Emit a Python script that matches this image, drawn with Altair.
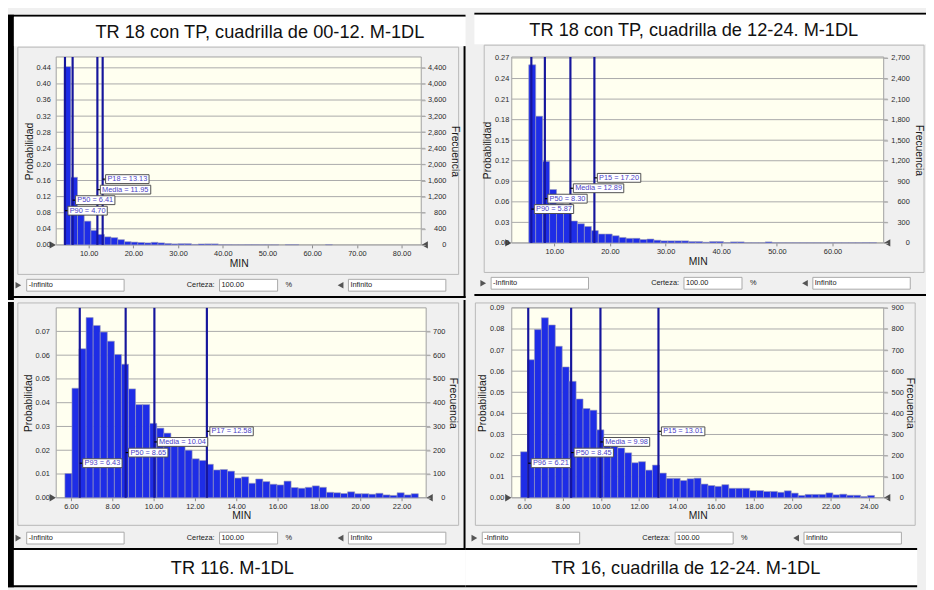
import altair as alt
import pandas as pd

TRIALS = 10000

PANEL_TITLES = [
    "TR 18 con TP, cuadrilla de 00-12. M-1DL",
    "TR 18 con TP, cuadrilla de 12-24. M-1DL",
    "TR 116. M-1DL",
    "TR 16, cuadrilla de 12-24. M-1DL",
]
X_TITLE = "MIN"
Y_TITLE = "Probabilidad"
Y2_TITLE = "Frecuencia"
CERTEZA = "Certeza:"
CERTEZA_VALUE = "100.00"
PERCENT = "%"
LOW_BOUND = "-Infinito"
HIGH_BOUND = "Infinito"

# ---------------- panel 1 (top left) ----------------
P1_BIN_START = 4.5
P1_BIN_WIDTH = 1.5
P1_PROB = [0.443, 0.168, 0.077, 0.059, 0.036, 0.026, 0.020, 0.018, 0.013, 0.008,
           0.007, 0.006, 0.005, 0.0065, 0.005, 0.0035, 0.0025, 0.003, 0.003, 0.0012,
           0.0025, 0.0025, 0.0025, 0.0004, 0.0004, 0.0004, 0.0004, 0.0004, 0.0004, 0.0004,
           0.0004, 0.0004, 0.0, 0.0008, 0.0008, 0.0, 0.0, 0.0, 0.0, 0.0008]
P1_MARK_NAMES = ["P90", "P50", "Media", "P18"]
P1_MARK_VALUES = [4.70, 6.41, 11.95, 13.13]
P1_X_DOMAIN = [2.74, 84.4]
P1_X_TICKS = [10, 20, 30, 40, 50, 60, 70, 80]
P1_Y_MAX = 0.467
P1_Y_TICKS = [0.00, 0.04, 0.08, 0.12, 0.16, 0.20, 0.24, 0.28, 0.32, 0.36, 0.40, 0.44]
P1_F_TICKS = [0, 400, 800, 1200, 1600, 2000, 2400, 2800, 3200, 3600, 4000, 4400]

# ---------------- panel 2 (top right) ----------------
P2_BIN_START = 5.4
P2_BIN_WIDTH = 1.25
P2_PROB = [0.26, 0.185, 0.119, 0.078, 0.057, 0.056, 0.032, 0.028, 0.024, 0.018,
           0.013, 0.013, 0.0105, 0.008, 0.0067, 0.0067, 0.005, 0.0057, 0.004, 0.003,
           0.003, 0.003, 0.003, 0.002, 0.002, 0.001, 0.002, 0.002, 0.0005, 0.0015,
           0.0015, 0.0003, 0.0003, 0.0003, 0.0015, 0.0003, 0.0003, 0.0003, 0.0003, 0.0003,
           0.0003, 0.0003, 0.0003, 0.0003, 0.0003, 0.0003, 0.0003, 0.0003, 0.0005, 0.0005]
P2_MARK_NAMES = ["P90", "P50", "Media", "P15"]
P2_MARK_VALUES = [5.87, 8.30, 12.89, 17.20]
P2_X_DOMAIN = [2.35, 69.2]
P2_X_TICKS = [10, 20, 30, 40, 50, 60]
P2_Y_MAX = 0.2715
P2_Y_TICKS = [0.00, 0.03, 0.06, 0.09, 0.12, 0.15, 0.18, 0.21, 0.24, 0.27]
P2_F_TICKS = [0, 300, 600, 900, 1200, 1500, 1800, 2100, 2400, 2700]

# ---------------- panel 3 (bottom left) ----------------
P3_BIN_START = 5.71
P3_BIN_WIDTH = 0.342
P3_PROB = [0.0102, 0.0461, 0.0627, 0.0758, 0.0725, 0.0697, 0.0659, 0.0603, 0.0562, 0.0458,
           0.0392, 0.0392, 0.0313, 0.0293, 0.0272, 0.0250, 0.0225, 0.0200, 0.0164, 0.0157,
           0.0141, 0.0117, 0.0119, 0.0112, 0.0083, 0.0088, 0.0061, 0.0079, 0.0068, 0.0057,
           0.0054, 0.0070, 0.0043, 0.0040, 0.0044, 0.0050, 0.0044, 0.0023, 0.0021, 0.0018,
           0.0025, 0.0017, 0.0017, 0.0015, 0.0019, 0.0012, 0.0010, 0.0021, 0.0012, 0.0017]
P3_MARK_NAMES = ["P93", "P50", "Media", "P17"]
P3_MARK_VALUES = [6.43, 8.65, 10.04, 12.58]
P3_X_DOMAIN = [5.29, 23.19]
P3_X_TICKS = [6, 8, 10, 12, 14, 16, 18, 20, 22]
P3_Y_MAX = 0.0799
P3_Y_TICKS = [0.00, 0.01, 0.02, 0.03, 0.04, 0.05, 0.06, 0.07]
P3_F_TICKS = [0, 100, 200, 300, 400, 500, 600, 700]

# ---------------- panel 4 (bottom right) ----------------
P4_BIN_START = 5.81
P4_BIN_WIDTH = 0.3624
P4_PROB = [0.0218, 0.0654, 0.0797, 0.0853, 0.0819, 0.0718, 0.0620, 0.0552, 0.0468, 0.0423,
           0.0415, 0.0322, 0.0275, 0.0244, 0.0236, 0.0213, 0.0166, 0.0171, 0.0131, 0.0155,
           0.0117, 0.0092, 0.0092, 0.0082, 0.0090, 0.0093, 0.0065, 0.0058, 0.0054, 0.0062,
           0.0045, 0.0045, 0.0045, 0.0034, 0.0034, 0.0030, 0.0030, 0.0026, 0.0033, 0.0022,
           0.0011, 0.0016, 0.0016, 0.0016, 0.0023, 0.0014, 0.0017, 0.0012, 0.0012, 0.0006,
           0.0011]
P4_MARK_NAMES = ["P96", "P50", "Media", "P15"]
P4_MARK_VALUES = [6.21, 8.45, 9.98, 13.01]
P4_X_DOMAIN = [5.35, 24.77]
P4_X_TICKS = [6, 8, 10, 12, 14, 16, 18, 20, 22, 24]
P4_Y_MAX = 0.09
P4_Y_TICKS = [0.00, 0.01, 0.02, 0.03, 0.04, 0.05, 0.06, 0.07, 0.08, 0.09]
P4_F_TICKS = [0, 100, 200, 300, 400, 500, 600, 700, 800, 900]

# ---------------- styling / layout ----------------
ONE = pd.DataFrame({"k": [0]})
UI = "Liberation Sans"
BLUE = "#1E2DE6"
RULE_C = "#16169C"
GRID = "#A9A9A9"
PANEL = "#F0F0F0"
PLOT_BG = "#FFFFF0"
LABEL_FRACS = [0.182, 0.238, 0.294, 0.35]
CW = {"P": .667, "M": .833, "e": .556, "d": .556, "i": .222, "a": .556,
      " ": .278, "=": .584, ".": .278}


def tw(s, size):
    return sum(CW.get(c, .556) for c in s) * size


def make_panel(title, d, lay):
    px, py, W, H = lay["px"], lay["py"], lay["W"], lay["H"]
    top = lay["pos"] == "top"
    left = lay["col"] == "left"
    ox = 0 if left else 4
    xs = alt.Scale(domain=d["xdom"], nice=False, zero=False)
    ys = alt.Scale(domain=[0, d["ymax"]], nice=False, zero=True)
    ppx = W / (d["xdom"][1] - d["xdom"][0])
    ppy = H / d["ymax"]
    L = []

    def rect(x1, y1, x2, y2, fill, stroke=None, sw=0, fo=1):
        kw = dict(fill=fill, strokeWidth=sw, fillOpacity=fo)
        if stroke is not None:
            kw["stroke"] = stroke
        L.append(alt.Chart(ONE).mark_rect(**kw).encode(
            x=alt.value(x1 - px), x2=alt.value(x2 - px),
            y=alt.value(y1 - py), y2=alt.value(y2 - py)))

    def label(x, y, s, size=7.5, align="left", color="#1A1A1A"):
        L.append(alt.Chart(ONE).mark_text(
            text=s, fontSize=size, font=UI, align=align, baseline="middle",
            color=color).encode(x=alt.value(x - px), y=alt.value(y - py)))

    def tri(x, y, shape, size=45, color="#555555"):
        L.append(alt.Chart(ONE).mark_point(
            shape=shape, size=size, filled=True, color=color, opacity=1).encode(
            x=alt.value(x - px), y=alt.value(y - py)))

    # cell frame (chart background is the panel grey)
    x_lo = -6 if left else 0
    y_lo, y_hi = (-2, 288) if top else (0, 290)
    rect(x_lo, y_lo, 459, y_hi, PANEL, fo=0)          # fixes the cell bounds
    if left:
        rect(-6, y_lo, 0, y_hi, "#000000")              # outer left border
    if top:
        rect(x_lo, -2, 459, 0, "#000000")               # outer top border
        rect(0, 0, 459, 30, "#FFFFFF")                  # caption strip
        rect(x_lo, 284, 459, 286, "#000000")            # separator to lower row
        if left:
            rect(457, 30, 459, 286, "#000000")          # separator between columns
        by0, by1, row_y, title_y = 31, 262, 273, 16
    else:
        if left:
            rect(457, -2, 459, 252, "#000000")
        rect(x_lo, 250, 459, 252, "#000000")
        rect(0, 252, 459, 288, "#FFFFFF")
        rect(x_lo, 288, 459, 290, "#000000")            # outer bottom border
        by0, by1, row_y, title_y = 1, 227, 240, 270
    bx0 = 4 if left else 10
    bx1 = 452 if left else 457
    rect(bx0, by0, bx1, by1, PANEL, "#B8B8B8", 1, fo=0)
    rect(px, py, px + W, py + H, PLOT_BG, "#A0A0A0", 1)

    # gridlines
    L.append(alt.Chart(pd.DataFrame({"v": d["yticks"]})).mark_rule(
        color=GRID, strokeWidth=1).encode(
        y=alt.Y("v:Q", scale=ys, axis=None), x=alt.value(0), x2=alt.value(W + 4)))

    # histogram bars
    n = len(d["prob"])
    bdf = pd.DataFrame({
        "x0": [d["start"] + i * d["width"] for i in range(n)],
        "x1": [d["start"] + (i + 1) * d["width"] for i in range(n)],
        "p": d["prob"],
    })
    bdf = bdf[bdf["p"] > 0]
    L.append(alt.Chart(bdf).mark_rect(fill=BLUE, stroke="#9C9CB8", strokeWidth=0.6).encode(
        x=alt.X("x0:Q", scale=xs, axis=None), x2="x1:Q",
        y=alt.Y("p:Q", scale=ys, axis=None), y2=alt.datum(0)))

    # percentile / mean markers
    order = sorted(range(len(d["mvals"])), key=lambda i: d["mvals"][i])
    rows = []
    for rank, i in enumerate(order):
        v = d["mvals"][i]
        s = f"{d['mnames'][i]} = {v:.2f}"
        w = tw(s, 7.5) + 3.5
        ly = LABEL_FRACS[rank] * d["ymax"]
        rows.append(dict(v=v, label=s, b0=v + 3 / ppx, b1=v + (3 + w) / ppx,
                         ly=ly, y0=ly - 4.5 / ppy, y1=ly + 4.5 / ppy))
    mdf = pd.DataFrame(rows)
    L.append(alt.Chart(mdf).mark_rule(color=RULE_C, strokeWidth=2.2).encode(
        x=alt.X("v:Q", scale=xs, axis=None)))
    L.append(alt.Chart(mdf).mark_rule(color="#000000", strokeWidth=1.2).encode(
        x=alt.X("v:Q", scale=xs, axis=None), x2="b0:Q",
        y=alt.Y("ly:Q", scale=ys, axis=None)))
    L.append(alt.Chart(mdf).mark_rect(fill="#FFFFFF", stroke="#505050", strokeWidth=1).encode(
        x=alt.X("b0:Q", scale=xs, axis=None), x2="b1:Q",
        y=alt.Y("y0:Q", scale=ys, axis=None), y2="y1:Q"))
    L.append(alt.Chart(mdf).mark_text(align="left", baseline="middle", fontSize=7.5, font=UI,
                                      color="#4B3FC6", dx=1.8).encode(
        x=alt.X("b0:Q", scale=xs, axis=None), y=alt.Y("ly:Q", scale=ys, axis=None),
        text="label:N"))

    # corner arrows of the plot
    tri(px - 3.5, py + H, "triangle-right", 55, "#4D4D4D")
    tri(px + W + 3.5, py + H, "triangle-left", 55, "#4D4D4D")

    # certainty input row
    tri(4.5 if left else 9, row_y, "triangle-right", 45, "#555555")
    rect(13 + ox, row_y - 6, 112 + ox, row_y + 6, "#FFFFFF", "#A8A8A8", 1)
    label(15 + ox, row_y, LOW_BOUND)
    label(204 + ox, row_y, CERTEZA, align="right")
    rect(209 + ox, row_y - 6, 268 + ox, row_y + 6, "#FFFFFF", "#A8A8A8", 1)
    label(211 + ox, row_y, CERTEZA_VALUE)
    label(276 + ox, row_y, PERCENT)
    tri(332 + ox, row_y, "triangle-left", 45, "#555555")
    rect(340 + ox, row_y - 6, 439 + ox, row_y + 6, "#FFFFFF", "#A8A8A8", 1)
    label(342 + ox, row_y, HIGH_BOUND)

    # panel caption
    label(lay["tx"], title_y, title, size=18.5, align="center", color="#111111")

    main = alt.layer(*L)

    # axes (own layers with independent scales of identical domain)
    xaxis = alt.Axis(orient="bottom", values=d["xticks"], format=".2f", title=X_TITLE,
                     labelFont=UI, labelFontSize=7.5, labelColor="#2A2A2A", tickSize=3,
                     tickColor="#8A8A8A", domain=False, grid=False, labelPadding=2,
                     labelOverlap=False, labelFlush=False, titleFont=UI, titleFontSize=10.5,
                     titleFontWeight="normal", titleColor="#1A1A1A", titlePadding=1, zindex=1)
    yaxis = alt.Axis(orient="left", values=d["yticks"], format=".2f", title=Y_TITLE,
                     labelFont=UI, labelFontSize=7.5, labelColor="#2A2A2A", ticks=False,
                     domain=False, grid=False, labelPadding=lay["lpad"], labelOverlap=False,
                     titleFont=UI, titleFontSize=10.5, titleFontWeight="normal",
                     titleColor="#1A1A1A", titlePadding=2, zindex=1)
    axes_left = alt.Chart(pd.DataFrame({"x": [d["xdom"][0]], "y": [0.0]})).mark_point(
        opacity=0).encode(
        x=alt.X("x:Q", scale=alt.Scale(domain=d["xdom"], nice=False, zero=False), axis=xaxis),
        y=alt.Y("y:Q", scale=alt.Scale(domain=[0, d["ymax"]], nice=False, zero=True),
                axis=yaxis))
    raxis = alt.Axis(orient="right", values=d["fticks"], format=",d", title=Y2_TITLE,
                     labelFont=UI, labelFontSize=7.5, labelColor="#2A2A2A", tickSize=4,
                     tickColor=GRID, labelAlign="right", labelPadding=lay["rlab"] - 4,
                     labelOverlap=False, domain=False, grid=False, titleFont=UI,
                     titleFontSize=10.5, titleFontWeight="normal", titleColor="#1A1A1A",
                     titlePadding=lay["rtpad"], titleAngle=90, zindex=1)
    axes_right = alt.Chart(pd.DataFrame({"f": [0.0]})).mark_point(opacity=0).encode(
        y=alt.Y("f:Q", scale=alt.Scale(domain=[0, d["ymax"] * TRIALS], nice=False),
                axis=raxis))
    return alt.layer(main, axes_left, axes_right).resolve_scale(
        x="independent", y="independent").properties(width=W, height=H)


def pack(start, width, prob, names, vals, xdom, xticks, ymax, yticks, fticks):
    return dict(start=start, width=width, prob=prob, mnames=names, mvals=vals, xdom=xdom,
                xticks=xticks, ymax=ymax, yticks=yticks, fticks=fticks)


D1 = pack(P1_BIN_START, P1_BIN_WIDTH, P1_PROB, P1_MARK_NAMES, P1_MARK_VALUES, P1_X_DOMAIN,
          P1_X_TICKS, P1_Y_MAX, P1_Y_TICKS, P1_F_TICKS)
D2 = pack(P2_BIN_START, P2_BIN_WIDTH, P2_PROB, P2_MARK_NAMES, P2_MARK_VALUES, P2_X_DOMAIN,
          P2_X_TICKS, P2_Y_MAX, P2_Y_TICKS, P2_F_TICKS)
D3 = pack(P3_BIN_START, P3_BIN_WIDTH, P3_PROB, P3_MARK_NAMES, P3_MARK_VALUES, P3_X_DOMAIN,
          P3_X_TICKS, P3_Y_MAX, P3_Y_TICKS, P3_F_TICKS)
D4 = pack(P4_BIN_START, P4_BIN_WIDTH, P4_PROB, P4_MARK_NAMES, P4_MARK_VALUES, P4_X_DOMAIN,
          P4_X_TICKS, P4_Y_MAX, P4_Y_TICKS, P4_F_TICKS)

LAY1 = dict(pos="top", col="left", px=43, py=41, W=371, H=191, tx=250, lpad=6, rlab=25, rtpad=4)
LAY2 = dict(pos="top", col="right", px=38, py=43, W=378, H=189, tx=223, lpad=3, rlab=26, rtpad=4)
LAY3 = dict(pos="bottom", col="left", px=43, py=6, W=376, H=193, tx=222, lpad=7, rlab=19, rtpad=3)
LAY4 = dict(pos="bottom", col="right", px=47, py=6, W=378, H=193, tx=224, lpad=8, rlab=20, rtpad=1)

chart = alt.concat(
    make_panel(PANEL_TITLES[0], D1, LAY1),
    make_panel(PANEL_TITLES[1], D2, LAY2),
    make_panel(PANEL_TITLES[2], D3, LAY3),
    make_panel(PANEL_TITLES[3], D4, LAY4),
    columns=2, spacing=0,
).properties(
    padding=0,
    background=PANEL,
).configure_view(strokeWidth=0).configure_concat(spacing=0)

chart.save("out.html", embed_options={"renderer": "svg", "actions": False})
